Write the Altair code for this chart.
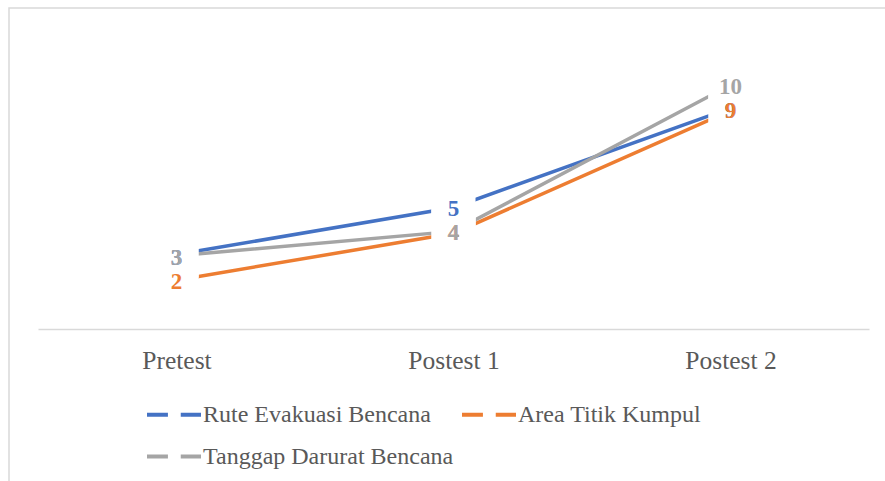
import altair as alt
import pandas as pd

categories = ["Pretest", "Postest 1", "Postest 2"]
series = ["Rute Evakuasi Bencana", "Area Titik Kumpul", "Tanggap Darurat Bencana"]
rute = [3.05, 4.98, 9.05]
area = [2.0, 3.92, 8.95]
tanggap = [3.0, 4.0, 10.0]
colors = ["#4472C4", "#ED7D31", "#A5A5A5"]
label_opacity = [1.0, 1.0, 0.75]

rows = []
for s, vals in zip(series, [rute, area, tanggap]):
    for c, v in zip(categories, vals):
        rows.append({"series": s, "category": c, "value": v})
df = pd.DataFrame(rows)

FONT = "Liberation Serif"

x_enc = alt.X("category:N", sort=categories,
              scale=alt.Scale(type="point", padding=0.5),
              axis=alt.Axis(title=None, labelAngle=0, ticks=False, tickSize=0,
                            grid=False, domainColor="#d9d9d9", domainWidth=1.5,
                            labelFont=FONT, labelFontSize=25.5, labelColor="#595959",
                            labelPadding=19))
y_scale = alt.Scale(domain=[0, 11.8], nice=False, zero=True)
y_enc = alt.Y("value:Q", scale=y_scale, axis=None)
y_lab = alt.Y("label_y:Q", scale=y_scale, axis=None)
color_scale = alt.Scale(domain=series, range=colors)

base = alt.Chart(df)

border = alt.Chart(pd.DataFrame({"b": [0]})).mark_rect(
    fill="white", fillOpacity=0, stroke="#d9d9d9", strokeWidth=1.5
).encode(x=alt.value(-29), x2=alt.value(905), y=alt.value(-33), y2=alt.value(500))

lines = base.mark_line(strokeWidth=3.5, strokeCap="round").encode(
    x=x_enc, y=y_enc,
    color=alt.Color("series:N", scale=color_scale, sort=series,
                    legend=alt.Legend(
                        orient="none", legendX=107, legendY=358, direction="horizontal",
                        columns=2, title=None, padding=0,
                        symbolType="M-1,0H0.55M1.5,0H3", symbolSize=729,
                        symbolStrokeWidth=4, labelFont=FONT, labelFontSize=24,
                        labelColor="#595959", labelLimit=400, labelOffset=27,
                        columnPadding=0, rowPadding=14)),
    order=alt.Order("category_order:Q"),
).transform_calculate(
    category_order="indexof(['Pretest','Postest 1','Postest 2'], datum.category)"
)

labelled = base.transform_calculate(label_y="round(datum.value)")

boxes = labelled.mark_square(size=1936, filled=True, color="white", opacity=1).encode(
    x=x_enc, y=y_lab
)

labels = labelled.mark_text(font=FONT, fontWeight="bold", fontSize=23, dy=2).encode(
    x=x_enc, y=y_lab,
    text=alt.Text("label_y:Q", format=".0f"),
    color=alt.Color("series:N", scale=color_scale, legend=None),
    opacity=alt.Opacity("series:N", scale=alt.Scale(domain=series, range=label_opacity), legend=None),
)

chart = alt.layer(border, lines, boxes, labels).properties(
    width=831, height=288,
    padding={"left": 38, "top": 41, "right": 16, "bottom": 152},
    autosize=alt.AutoSizeParams(type="none"),
    background="white",
).configure_view(stroke=None)

chart.save("out.html", embed_options={"renderer": "svg", "actions": False})
